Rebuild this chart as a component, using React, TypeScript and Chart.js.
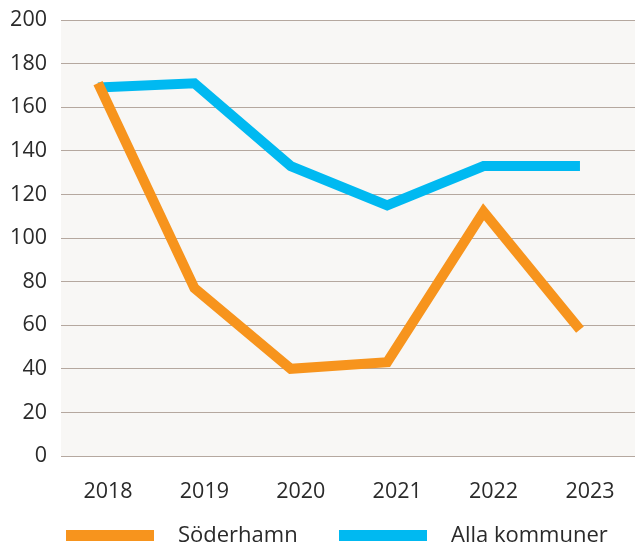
import React, { useEffect, useRef } from "react";
import { Chart, registerables } from "chart.js";

Chart.register(...registerables);

const years = [2018, 2019, 2020, 2021, 2022, 2023];
const soderhamn = [171, 77, 40, 43, 112, 58];
const allaKommuner = [169, 171, 133, 115, 133, 133];
const yTickValues = [0, 20, 40, 60, 80, 100, 120, 140, 160, 180, 200];
const seriesLabels = ["Söderhamn", "Alla kommuner"];
const seriesColors = ["#f7941d", "#00b9f1"];

const FONT = "'Open Sans', 'Noto Sans', sans-serif";
const TEXT = "#2a2a2a";

const plotBg = {
  id: "plotBg",
  beforeDraw(chart: any) {
    const { ctx, chartArea } = chart;
    ctx.save();
    ctx.fillStyle = "#f8f7f5";
    ctx.fillRect(chartArea.left, chartArea.top, chartArea.right - chartArea.left, chartArea.bottom - chartArea.top);
    ctx.restore();
  },
};

const legendItems = [
  { box: 66, text: 178 },
  { box: 339, text: 451 },
];

const customLegend = {
  id: "customLegend",
  afterDraw(chart: any) {
    const { ctx } = chart;
    ctx.save();
    chart.data.datasets.forEach((ds: any, i: number) => {
      const pos = legendItems[i];
      ctx.fillStyle = ds.borderColor;
      ctx.fillRect(pos.box, 530, 88, 11);
      ctx.fillStyle = TEXT;
      ctx.font = `22px ${FONT}`;
      ctx.textBaseline = "middle";
      ctx.textAlign = "left";
      ctx.fillText(ds.label, pos.text, 536);
    });
    ctx.restore();
  },
};

export default function App() {
  const ref = useRef<HTMLCanvasElement>(null);
  useEffect(() => {
    if (!ref.current) return;
    const chart = new Chart(ref.current, {
      type: "line",
      data: {
        datasets: [
          {
            label: seriesLabels[0],
            data: years.map((y, i) => ({ x: y, y: soderhamn[i] })),
            borderColor: seriesColors[0],
            backgroundColor: seriesColors[0],
            borderWidth: 10,
            pointRadius: 0,
            tension: 0,
          },
          {
            label: seriesLabels[1],
            data: years.map((y, i) => ({ x: y, y: allaKommuner[i] })),
            borderColor: seriesColors[1],
            backgroundColor: seriesColors[1],
            borderWidth: 10,
            pointRadius: 0,
            tension: 0,
          },
        ],
      },
      options: {
        responsive: false,
        animation: false,
        devicePixelRatio: 1,
        layout: { padding: { top: 20, bottom: 38, left: 0, right: 0 } },
        plugins: { legend: { display: false }, tooltip: { enabled: false } },
        scales: {
          x: {
            type: "linear",
            min: 2017.616,
            max: 2023.571,
            grid: { display: false, drawTicks: false },
            border: { display: false },
            afterBuildTicks: (s: any) => {
              s.ticks = years.map((v) => ({ value: v }));
            },
            afterFit: (s: any) => {
              s.height = 52;
              s.paddingLeft = 0;
              s.paddingRight = 0;
            },
            ticks: {
              callback: (v: any) => String(v),
              font: { family: FONT, size: 21.5 },
              color: TEXT,
              padding: 23,
              labelOffset: 10,
              maxRotation: 0,
              autoSkip: false,
            },
          },
          y: {
            min: 0,
            max: 200,
            afterBuildTicks: (s: any) => {
              s.ticks = yTickValues.map((v) => ({ value: v }));
            },
            afterFit: (s: any) => {
              s.width = 61;
              s.paddingTop = 0;
              s.paddingBottom = 0;
            },
            grid: { color: "#b5a89f", lineWidth: 1, drawTicks: false },
            border: { display: false },
            ticks: {
              font: { family: FONT, size: 21.5 },
              color: TEXT,
              padding: 14,
            },
          },
        },
      },
      plugins: [plotBg, customLegend],
    });
    return () => chart.destroy();
  }, []);
  return (
    <div style={{ position: "fixed", left: 0, top: 0, width: 635, height: 546, background: "#fff" }}>
      <canvas ref={ref} width={635} height={546} style={{ display: "block" }} />
    </div>
  );
}
